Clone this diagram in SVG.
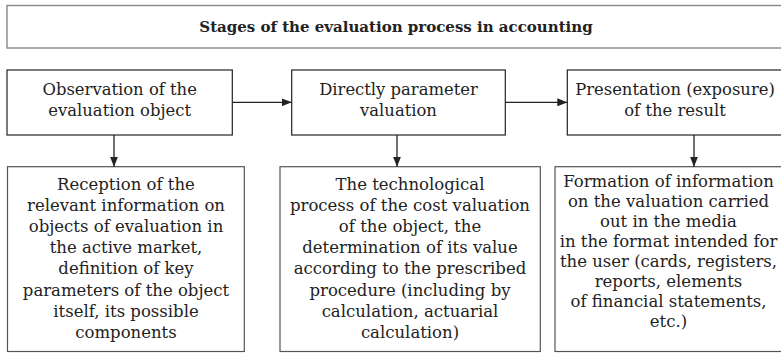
<svg xmlns="http://www.w3.org/2000/svg" width="781" height="353" viewBox="0 0 781 353">
<style>
text{font-family:"DejaVu Serif","Liberation Serif",serif;fill:#222;text-anchor:middle;}
.t{font-size:15px;font-weight:bold;}
.m{font-size:16.4px;}
.b{font-size:16.5px;}
.title{fill:#fff;stroke:#888;stroke-width:1.4;}
.top{fill:#fff;stroke:#222;stroke-width:1.2;}
.bot{fill:#fff;stroke:#555;stroke-width:1.2;}
.c{stroke:#222;stroke-width:1.3;fill:none;marker-end:url(#ah);}
</style>
<defs>
<marker id="ah" viewBox="0 0 10 8" refX="10" refY="4" markerWidth="10" markerHeight="8" markerUnits="userSpaceOnUse" orient="auto">
<path d="M0,0 L10,4 L0,8 z" fill="#222"/>
</marker>
</defs>
<rect width="781" height="353" fill="#fff"/>
<g id="title">
<rect class="title" x="7" y="5.5" width="780" height="42.5"/>
<text class="t" x="396" y="31.5">Stages of the evaluation process in accounting</text>
</g>
<g id="observation">
<rect class="top" x="7" y="70" width="225.3" height="65"/>
<text class="m" x="119.7" y="95">Observation of the</text>
<text class="m" x="119.7" y="116">evaluation object</text>
</g>
<g id="valuation">
<rect class="top" x="291.7" y="70" width="213.6" height="65"/>
<text class="m" x="398.5" y="95">Directly parameter</text>
<text class="m" x="398.5" y="116">valuation</text>
</g>
<g id="presentation">
<rect class="top" x="567.3" y="70" width="220" height="65"/>
<text class="m" x="675" y="95">Presentation (exposure)</text>
<text class="m" x="675" y="116">of the result</text>
</g>
<g id="reception">
<rect class="bot" x="7.5" y="166.7" width="236.8" height="184.8"/>
<text class="b" x="126" y="189.5">Reception of the</text>
<text class="b" x="126" y="210.7">relevant information on</text>
<text class="b" x="126" y="231.9">objects of evaluation in</text>
<text class="b" x="126" y="253.1">the active market,</text>
<text class="b" x="126" y="274.3">definition of key</text>
<text class="b" x="126" y="295.5">parameters of the object</text>
<text class="b" x="126" y="316.7">itself, its possible</text>
<text class="b" x="126" y="337.9">components</text>
</g>
<g id="technological">
<rect class="bot" x="280" y="166.7" width="260.3" height="184.8"/>
<text class="b" x="410" y="189.5">The technological</text>
<text class="b" x="410" y="210.7">process of the cost valuation</text>
<text class="b" x="410" y="231.9">of the object, the</text>
<text class="b" x="410" y="253.1">determination of its value</text>
<text class="b" x="410" y="274.3">according to the prescribed</text>
<text class="b" x="410" y="295.5">procedure (including by</text>
<text class="b" x="410" y="316.7">calculation, actuarial</text>
<text class="b" x="410" y="337.9">calculation)</text>
</g>
<g id="formation">
<rect class="bot" x="555" y="166.7" width="232" height="184.8"/>
<text class="b" x="668.5" y="187.3">Formation of information</text>
<text class="b" x="668.5" y="207.2">on the valuation carried</text>
<text class="b" x="668.5" y="227.1">out in the media</text>
<text class="b" x="668.5" y="247">in the format intended for</text>
<text class="b" x="668.5" y="266.9">the user (cards, registers,</text>
<text class="b" x="668.5" y="286.8">reports, elements</text>
<text class="b" x="668.5" y="306.7">of financial statements,</text>
<text class="b" x="668.5" y="326.6">etc.)</text>
</g>
<g id="connectors">
<line class="c" x1="232.3" y1="102.3" x2="291.7" y2="102.3"/>
<line class="c" x1="505.3" y1="102.3" x2="567.3" y2="102.3"/>
<line class="c" x1="114" y1="135" x2="114" y2="166.7"/>
<line class="c" x1="397" y1="135" x2="397" y2="166.7"/>
<line class="c" x1="694" y1="135" x2="694" y2="166.7"/>
</g>
</svg>
